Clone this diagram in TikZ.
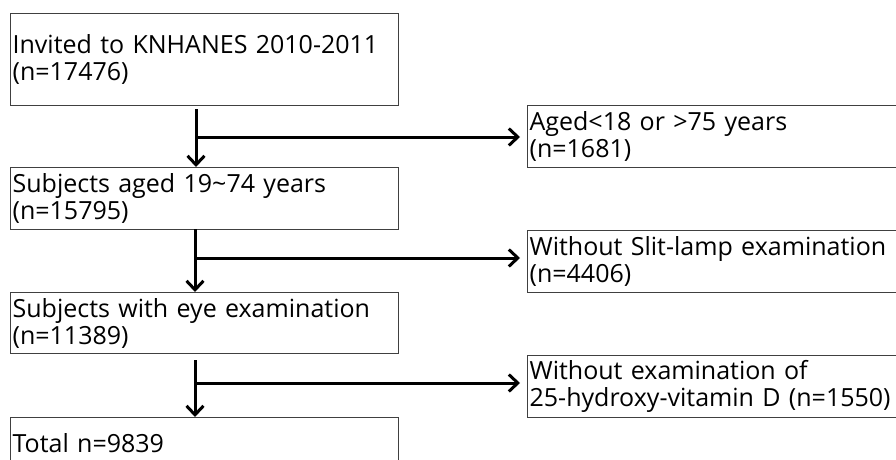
\documentclass[tikz,border=0pt]{standalone}
\usepackage{fontspec}
\setmainfont{Open Sans}
\usetikzlibrary{arrows.meta}
\begin{document}
\begin{tikzpicture}[x=1pt,y=-1pt,
  box/.style={draw=black!75, line width=1.2pt, anchor=north west, align=left,
    inner xsep=2pt, inner ysep=0pt, font=\fontsize{25}{27}\selectfont},
  lbox/.style={box, text width=384pt},
  rbox/.style={box, text width=400pt, minimum height=62pt},
  flow/.style={line width=3pt, -{Straight Barb[length=9pt,width=17pt,line width=3pt]}},
  branch/.style={flow, shorten >=7pt}]
\useasboundingbox (0,0) rectangle (896,460);
\node[lbox, minimum height=92pt] (A) at (10,13) {Invited to KNHANES 2010-2011\\(n=17476)};
\node[lbox, minimum height=62pt] (B) at (10,167) {Subjects aged 19\char`~74 years\\(n=15795)};
\node[lbox, minimum height=61pt] (C) at (10,292) {Subjects with eye examination\\(n=11389)};
\node[lbox, minimum height=52pt] (D) at (10,417) {Total n=9839};
\node[rbox] (R1) at (527,105) {Aged<18 or >75 years\\(n=1681)};
\node[rbox] (R2) at (527,230) {Without Slit-lamp examination\\(n=4406)};
\node[rbox] (R3) at (527,355) {Without examination of\\25-hydroxy-vitamin D (n=1550)};
\coordinate (s1) at (196,109);
\coordinate (s2) at (195,229);
\coordinate (s3) at (195,360);
\coordinate (j1) at (196,137);
\coordinate (j2) at (195,258);
\coordinate (j3) at (195,383);
\draw[flow] (s1) -- (s1 |- B.north);
\draw[flow] (s2) -- (s2 |- C.north);
\draw[flow] (s3) -- (s3 |- D.north);
\draw[branch] (j1) -- (j1 -| R1.west);
\draw[branch] (j2) -- (j2 -| R2.west);
\draw[branch] (j3) -- (j3 -| R3.west);
\end{tikzpicture}
\end{document}
